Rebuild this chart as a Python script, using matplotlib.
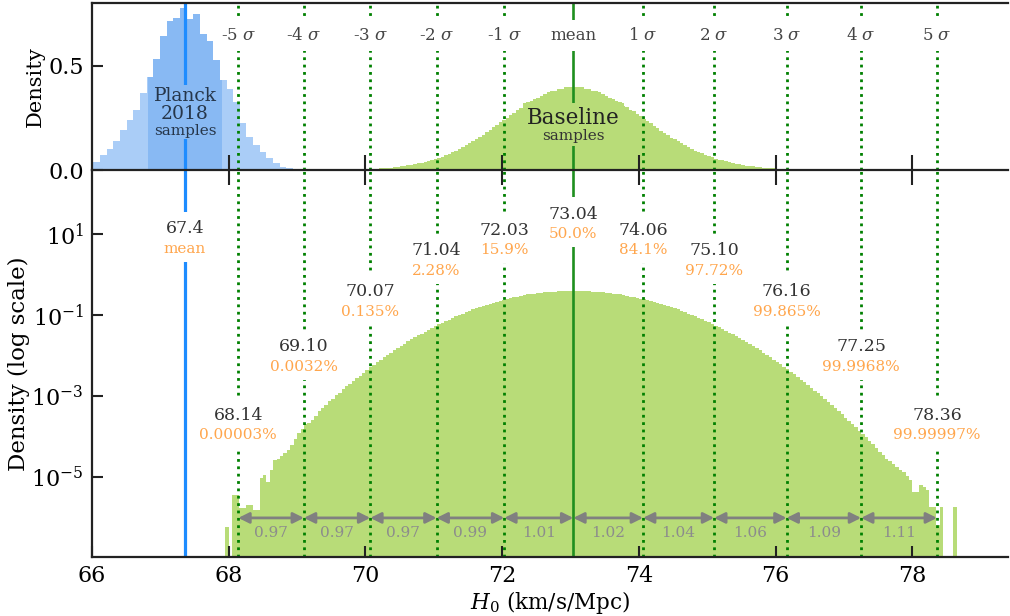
import numpy as np
import matplotlib
matplotlib.use("Agg")
import matplotlib.pyplot as plt

plt.rcParams['font.family'] = ['DejaVu Serif']
plt.rcParams['mathtext.fontset'] = 'dejavuserif'

# Planck 2018 samples (top panel only)
planck_mean = 67.36
planck_sigma = 0.54
planck_start = 65.922
planck_width = 0.0974
planck_density = [0.030, 0.040, 0.071, 0.100, 0.140, 0.190, 0.238, 0.286, 0.368, 0.444,
                  0.532, 0.643, 0.714, 0.730, 0.778, 0.722, 0.746, 0.651, 0.619, 0.527,
                  0.432, 0.389, 0.325, 0.225, 0.159, 0.119, 0.087, 0.056, 0.032, 0.016,
                  0.010, 0.007, 0.005, 0.003, 0.002, 0.001]

# Baseline samples: log10(density) per 0.05 bin, nan = empty bin
base_start = 67.95
base_width = 0.05
nan = np.nan
base_log_density = [
    -6.23, nan, -5.44, -5.44, -5.77, -5.77, -5.69, -5.69, -5.81, -5.81,
    -5.02, -4.95, -5.12, -4.83, -4.58, -4.55, -4.48, -4.40, -4.33, -4.20,
    -4.05, -3.91, -3.80,
    -3.69, -3.66, -3.58, -3.48, -3.37, -3.29, -3.21, -3.13, -3.06, -2.98,
    -2.91, -2.83, -2.76, -2.69, -2.62, -2.55, -2.49, -2.42, -2.35, -2.29,
    -2.23, -2.16, -2.10, -2.04, -1.98, -1.93, -1.87, -1.81, -1.76, -1.71,
    -1.65, -1.60, -1.55, -1.50, -1.46, -1.41, -1.36, -1.32, -1.27, -1.23,
    -1.19, -1.15, -1.11, -1.07, -1.03, -1.00, -0.96, -0.93, -0.89, -0.86,
    -0.83, -0.80, -0.77, -0.74, -0.72, -0.69, -0.67, -0.64, -0.62, -0.60,
    -0.58, -0.56, -0.54, -0.53, -0.51, -0.49, -0.48, -0.47, -0.46, -0.45,
    -0.44, -0.43, -0.42, -0.42, -0.41, -0.41, -0.40, -0.40, -0.40,
    -0.40, -0.40, -0.40, -0.41, -0.41, -0.42, -0.42, -0.43, -0.44, -0.45,
    -0.46, -0.47, -0.48, -0.49, -0.51, -0.52, -0.54, -0.55, -0.57, -0.59,
    -0.61, -0.63, -0.65, -0.68, -0.70, -0.73, -0.75, -0.78, -0.81, -0.83,
    -0.86, -0.89, -0.93, -0.96, -0.99, -1.03, -1.06, -1.10, -1.14, -1.18,
    -1.22, -1.26, -1.30, -1.34, -1.38, -1.43, -1.47, -1.52, -1.57, -1.62,
    -1.67, -1.72, -1.77, -1.82, -1.87, -1.93, -1.98, -2.04, -2.10, -2.16,
    -2.21, -2.28, -2.34, -2.40, -2.46, -2.53, -2.59, -2.66, -2.72, -2.79,
    -2.86, -2.93, -3.00, -3.08, -3.15, -3.22, -3.30, -3.37, -3.45, -3.53,
    -3.61, -3.69, -3.77, -3.85, -3.93, -4.02, -4.10, -4.19, -4.28, -4.38,
    -4.45, -4.55, -4.60, -4.68,
    -4.75, -4.83, -4.88, -4.97, -5.07, -5.36, -5.36, -5.20, -5.24, -5.32,
    -5.73, -5.73, -6.19, -5.73, nan, nan, nan, -5.73]

sigma_k = [-5, -4, -3, -2, -1, 0, 1, 2, 3, 4, 5]
sigma_vals = [68.14, 69.10, 70.07, 71.04, 72.03, 73.04, 74.06, 75.10, 76.16, 77.25, 78.36]
sigma_text = ["68.14", "69.10", "70.07", "71.04", "72.03", "73.04",
              "74.06", "75.10", "76.16", "77.25", "78.36"]
sigma_pct = ["0.00003%", "0.0032%", "0.135%", "2.28%", "15.9%", "50.0%",
             "84.1%", "97.72%", "99.865%", "99.9968%", "99.99997%"]
gap_labels = ["0.97", "0.97", "0.97", "0.99", "1.01", "1.02", "1.04", "1.06", "1.09", "1.11"]

# label heights (axes fraction) by |k|
label_y = [0.886, 0.845, 0.791, 0.685, 0.543, 0.367]

c_pl_light = "#aacdf7"
c_pl_dark = "#88b9f3"
c_pl_line = "#1e8cff"
c_green = "#b8dc78"
c_mean = "#1f8f1f"
c_dot = "green"
c_spine = "#222222"

fig = plt.figure(figsize=(10.1, 6.16), dpi=100)
ax2 = fig.add_axes([0.0911, 0.0958, 0.907, 0.628])
ax1 = fig.add_axes([0.0911, 0.724, 0.907, 0.271])
ax1.patch.set_visible(False)

# --- histograms
pl_edges = planck_start + planck_width * np.arange(len(planck_density) + 1)
ax1.bar(pl_edges[:-1], planck_density, width=planck_width, align='edge',
        color=c_pl_light, lw=0, zorder=1)
lo, hi = planck_mean - planck_sigma, planck_mean + planck_sigma
left = np.maximum(pl_edges[:-1], lo)
right = np.minimum(pl_edges[1:], hi)
m = right > left
ax1.bar(left[m], np.array(planck_density)[m], width=(right - left)[m], align='edge',
        color=c_pl_dark, lw=0, zorder=1)

b_edges = base_start + base_width * np.arange(len(base_log_density) + 1)
b_dens = np.nan_to_num(10.0 ** np.array(base_log_density))
for ax in (ax1, ax2):
    ax.bar(b_edges[:-1], b_dens, width=base_width, align='edge',
           color=c_green, lw=0, zorder=1)

# --- vertical lines
for ax in (ax1, ax2):
    ax.axvline(planck_mean, color=c_pl_line, lw=2.3, zorder=2)
    for k, v in zip(sigma_k, sigma_vals):
        if k == 0:
            ax.axvline(v, color=c_mean, lw=1.9, zorder=2)
        else:
            ax.axvline(v, color=c_dot, ls=':', lw=2, zorder=2)

# --- top panel labels
for k, v in zip(sigma_k, sigma_vals):
    s = "mean" if k == 0 else "%d $\\sigma$" % k
    ax1.text(v, 0.645, s, ha='center', va='center', fontsize=12, color='#444444',
             bbox=dict(fc='white', ec='none', pad=5), zorder=4)

ax1.text(planck_mean, 0.31, "Planck\n2018", ha='center', va='center', fontsize=13.5,
         color='#26364a', linespacing=1.0,
         bbox=dict(fc=c_pl_dark, ec='none', pad=2), zorder=4)
ax1.text(planck_mean, 0.187, "samples", ha='center', va='center', fontsize=11,
         color='#26364a', bbox=dict(fc=c_pl_dark, ec='none', pad=1), zorder=4)
ax1.text(sigma_vals[5], 0.25, "Baseline", ha='center', va='center', fontsize=15.5,
         color='#222222', bbox=dict(fc=c_green, ec='none', pad=3), zorder=4)
ax1.text(sigma_vals[5], 0.163, "samples", ha='center', va='center', fontsize=11,
         color='#333333', bbox=dict(fc=c_green, ec='none', pad=2), zorder=4)

# --- bottom panel labels
tr = ax2.get_xaxis_transform()
for k, v, t, p in zip(sigma_k, sigma_vals, sigma_text, sigma_pct):
    y = label_y[abs(k)]
    ax2.text(v, y, t, transform=tr, ha='center', va='center', fontsize=12.5,
             color='#333333', bbox=dict(fc='white', ec='none', pad=6), zorder=4)
    ax2.text(v, y - 0.052, p, transform=tr, ha='center', va='center', fontsize=11,
             color='#ffa64d', bbox=dict(fc='white', ec='none', pad=4), zorder=5)
ax2.text(planck_mean, 0.848, "67.4", transform=tr, ha='center', va='center',
         fontsize=12.5, color='#333333', bbox=dict(fc='white', ec='none', pad=6), zorder=4)
ax2.text(planck_mean, 0.796, "mean", transform=tr, ha='center', va='center',
         fontsize=11, color='#ffa64d', bbox=dict(fc='white', ec='none', pad=4), zorder=5)

# --- spacing arrows
for i, g in enumerate(gap_labels):
    ax2.annotate('', xy=(sigma_vals[i + 1], 0.101), xytext=(sigma_vals[i], 0.101),
                 xycoords=tr, arrowprops=dict(arrowstyle='<|-|>', color='#808080', lw=2,
                                              shrinkA=0, shrinkB=0, mutation_scale=16),
                 zorder=3)
    ax2.text((sigma_vals[i] + sigma_vals[i + 1]) / 2, 0.062, g, transform=tr,
             ha='center', va='center', fontsize=11, color='#8c8c8c', zorder=3)

# --- axes styling
for ax in (ax1, ax2):
    ax.set_xlim(66, 79.4)
    ax.spines['right'].set_visible(False)
    for sp in ax.spines.values():
        sp.set_color(c_spine)
        sp.set_linewidth(1.6)

ax1.set_ylim(0, 0.8)
ax1.set_xticks([68, 70, 72, 74, 76, 78])
ax1.tick_params(axis='x', direction='inout', length=22, width=1.5, color=c_spine,
                labelbottom=False)
ax1.set_yticks([0.0, 0.5])
ax1.set_yticklabels(["0.0", "0.5"])
ax1.tick_params(axis='y', direction='in', length=8, width=1.5, color=c_spine,
                labelsize=16, pad=6)
ax1.set_ylabel("Density", fontsize=15)
ax1.yaxis.set_label_coords(-0.052, 0.5)

ax2.spines['top'].set_visible(False)
ax2.set_yscale('log')
ax2.set_ylim(10 ** -6.97, 10 ** 2.58)
ax2.set_yticks([1e1, 1e-1, 1e-3, 1e-5])
ax2.minorticks_off()
ax2.set_xticks([66, 68, 70, 72, 74, 76, 78])
ax2.tick_params(axis='both', direction='in', length=8, width=1.5, color=c_spine,
                labelsize=16, pad=6)
ax2.set_xlabel("$H_0$ (km/s/Mpc)", fontsize=15.5, labelpad=1)
ax2.set_ylabel("Density (log scale)", fontsize=16.5)
ax2.yaxis.set_label_coords(-0.068, 0.5)

fig.savefig("out.png", dpi=100)
